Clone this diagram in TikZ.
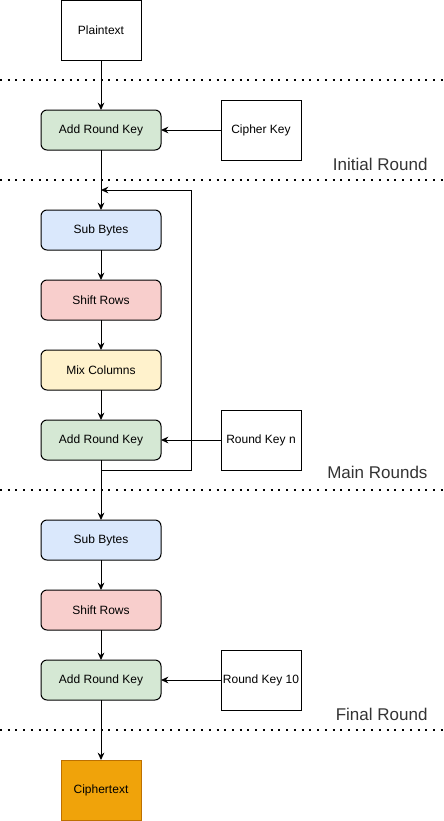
\documentclass[tikz,border=0pt]{standalone}
\usepackage{fontspec}
\setmainfont{Liberation Sans}
\usetikzlibrary{calc}
\usetikzlibrary{positioning}
\usetikzlibrary{arrows.meta}
\definecolor{grn}{HTML}{D5E8D4}
\definecolor{blu}{HTML}{DAE8FC}
\definecolor{rdd}{HTML}{F8CECC}
\definecolor{ylw}{HTML}{FFF2CC}
\definecolor{orn}{HTML}{F0A30A}
\definecolor{ornd}{HTML}{BD7000}
\definecolor{txtc}{HTML}{333333}

\begin{document}
\begin{tikzpicture}[x=0.75pt, y=-0.75pt, line width=0.75pt,
  font=\fontsize{9}{11}\selectfont,
  op/.style={draw, rounded corners=4.5pt, minimum width=90pt, minimum height=30pt, inner sep=0pt, outer sep=0pt},
  txt/.style={draw, minimum width=60pt, minimum height=45pt, inner sep=0pt, outer sep=0pt},
  sep/.style={line width=1.5pt, dash pattern=on 1.5pt off 4.3pt},
  rnd/.style={anchor=east, inner sep=0pt, text=txtc, font=\fontsize{12.75}{15}\selectfont},
  >={Stealth[length=5.5pt, width=5pt]}]
  \useasboundingbox (0,0) rectangle (443,821);

  \node [txt] (pt) at (101,30) {Plaintext};
  \node [op, fill=grn, below=37.5pt of pt] (ark0) {Add Round Key};
  \node [txt, right=45pt of ark0] (ck) {Cipher Key};

  \node [op, fill=blu, below=45pt of ark0] (sb0) {Sub Bytes};
  \node [op, fill=rdd, below=22.5pt of sb0] (sr0) {Shift Rows};
  \node [op, fill=ylw, below=22.5pt of sr0] (mc) {Mix Columns};
  \node [op, fill=grn, below=22.5pt of mc] (ark1) {Add Round Key};
  \node [txt, right=45pt of ark1] (rkn) {Round Key n};

  \node [op, fill=blu, below=45pt of ark1] (sb1) {Sub Bytes};
  \node [op, fill=rdd, below=22.5pt of sb1] (sr1) {Shift Rows};
  \node [op, fill=grn, below=22.5pt of sr1] (ark2) {Add Round Key};
  \node [txt, right=45pt of ark2] (rk10) {Round Key 10};

  \node [txt, fill=orn, draw=ornd, below=45pt of ark2] (ct) {Ciphertext};

  % round separators and titles
  \foreach \y in {80,180,490,730}
    \draw [sep] (0,\y) -- (443,\y);
  \node [rnd] (ir) at (428,164) {Initial Round};
  \node [rnd] (mr) at (428,472) {Main Rounds};
  \node [rnd] (fr) at (428,714) {Final Round};

  \draw [->] (pt) -- (ark0);
  \draw [->] (ck) -- (ark0);
  \draw [->] (ark0) -- (sb0);
  \draw [->] (sb0) -- (sr0);
  \draw [->] (sr0) -- (mc);
  \draw [->] (mc) -- (ark1);
  \draw [->] (rkn) -- (ark1);
  \draw [->] (ark1) -- (sb1);
  \draw [->] (sb1) -- (sr1);
  \draw [->] (sr1) -- (ark2);
  \draw [->] (rk10) -- (ark2);
  \draw [->] (ark2) -- (ct);

  % loop back over the main rounds
  \coordinate (l0) at ($(ark1.south)+(0,10)$);
  \coordinate (l1) at ($(sb0.north)+(0,-20)$);
  \draw [->] (l0) -- ++(90,0) |- (l1);
\end{tikzpicture}
\end{document}
